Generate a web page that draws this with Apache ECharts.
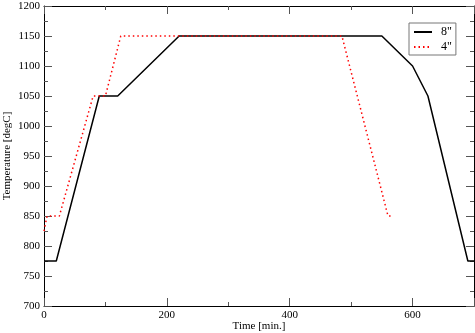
<!DOCTYPE html>
<html><head><meta charset="utf-8">
<script src="https://cdn.jsdelivr.net/npm/echarts@6/dist/echarts.min.js"></script>
<style>html,body{margin:0;padding:0;background:#fff}#c{width:475px;height:333px}</style>
</head><body><div id="c"></div>
<script>
const seriesNames = ['8"', '4"'];
const time8 = [0, 20, 90, 120, 220, 550, 600, 625, 690, 700];
const temp8 = [775, 775, 1050, 1050, 1150, 1150, 1100, 1050, 775, 775];
const time4 = [0, 5, 25, 80, 100, 125, 485, 560, 565];
const temp4 = [825, 850, 850, 1050, 1050, 1150, 1150, 850, 850];
const xTicks = [0, 200, 400, 600];
const yTicks = [700, 750, 800, 850, 900, 950, 1000, 1050, 1100, 1150, 1200];

const font = 'Liberation Serif, DejaVu Serif, serif';
const pair = (xs, ys) => xs.map((x, i) => [x, ys[i]]);
const tickStyle = { color: '#555', width: 1 };
function xAx(pos, show) {
  return {
    type: 'value', position: pos, min: 0, max: 700, interval: 200,
    axisLine: { show: true, onZero: false, lineStyle: { color: '#000', width: 1 } },
    axisTick: { show: true, inside: true, length: 8, lineStyle: tickStyle },
    minorTick: { show: true, splitNumber: 2, length: 4, lineStyle: tickStyle },
    splitLine: { show: false },
    axisLabel: { show: show, color: '#000', fontFamily: font, fontSize: 11, margin: 4, showMaxLabel: false,
      formatter: v => xTicks.includes(v) ? String(v) : '' },
    name: show ? 'Time [min.]' : '', nameLocation: 'middle', nameGap: 15, nameMoveOverlap: false,
    nameTextStyle: { color: '#000', fontFamily: font, fontSize: 11 }
  };
}
function yAx(pos, show) {
  return {
    type: 'value', position: pos, min: 700, max: 1200, interval: 50,
    axisLine: { show: true, onZero: false, lineStyle: { color: '#000', width: 1 } },
    axisTick: { show: true, inside: true, length: 8, lineStyle: tickStyle },
    minorTick: { show: true, splitNumber: 2, length: 4, lineStyle: tickStyle },
    splitLine: { show: false },
    axisLabel: { show: show, color: '#000', fontFamily: font, fontSize: 11, margin: 4,
      formatter: v => yTicks.includes(v) ? String(v) : '' },
    name: show ? 'Temperature [degC]' : '', nameLocation: 'middle', nameGap: 31, nameMoveOverlap: false,
    nameTextStyle: { color: '#000', fontFamily: font, fontSize: 11 }
  };
}
const chart = echarts.init(document.getElementById('c'), null, { renderer: 'canvas' });
chart.setOption({
  animation: false,
  grid: { left: 44, top: 6, right: 1, bottom: 27, containLabel: false, outerBoundsMode: 'none' },
  xAxis: [xAx('bottom', true), xAx('top', false)],
  yAxis: [yAx('left', true), yAx('right', false)],
  legend: {
    data: seriesNames, orient: 'vertical', left: 409, top: 23,
    borderColor: '#777', borderWidth: 1, backgroundColor: '#fff',
    padding: [3, 4, 2, 4], itemGap: 3, itemWidth: 18, itemHeight: 10,
    itemStyle: { opacity: 0 },
    textStyle: { color: '#000', fontFamily: font, fontSize: 12, padding: [0, 0, 0, 4] }
  },
  series: [
    { name: seriesNames[0], type: 'line', data: pair(time8, temp8), symbol: 'none',
      lineStyle: { color: '#000', width: 1.5 }, itemStyle: { color: '#000' } },
    { name: seriesNames[1], type: 'line', data: pair(time4, temp4), symbol: 'none',
      lineStyle: { color: '#ff0000', width: 1.5, type: [1.5, 3] }, itemStyle: { color: '#ff0000' } }
  ]
});
</script></body></html>
